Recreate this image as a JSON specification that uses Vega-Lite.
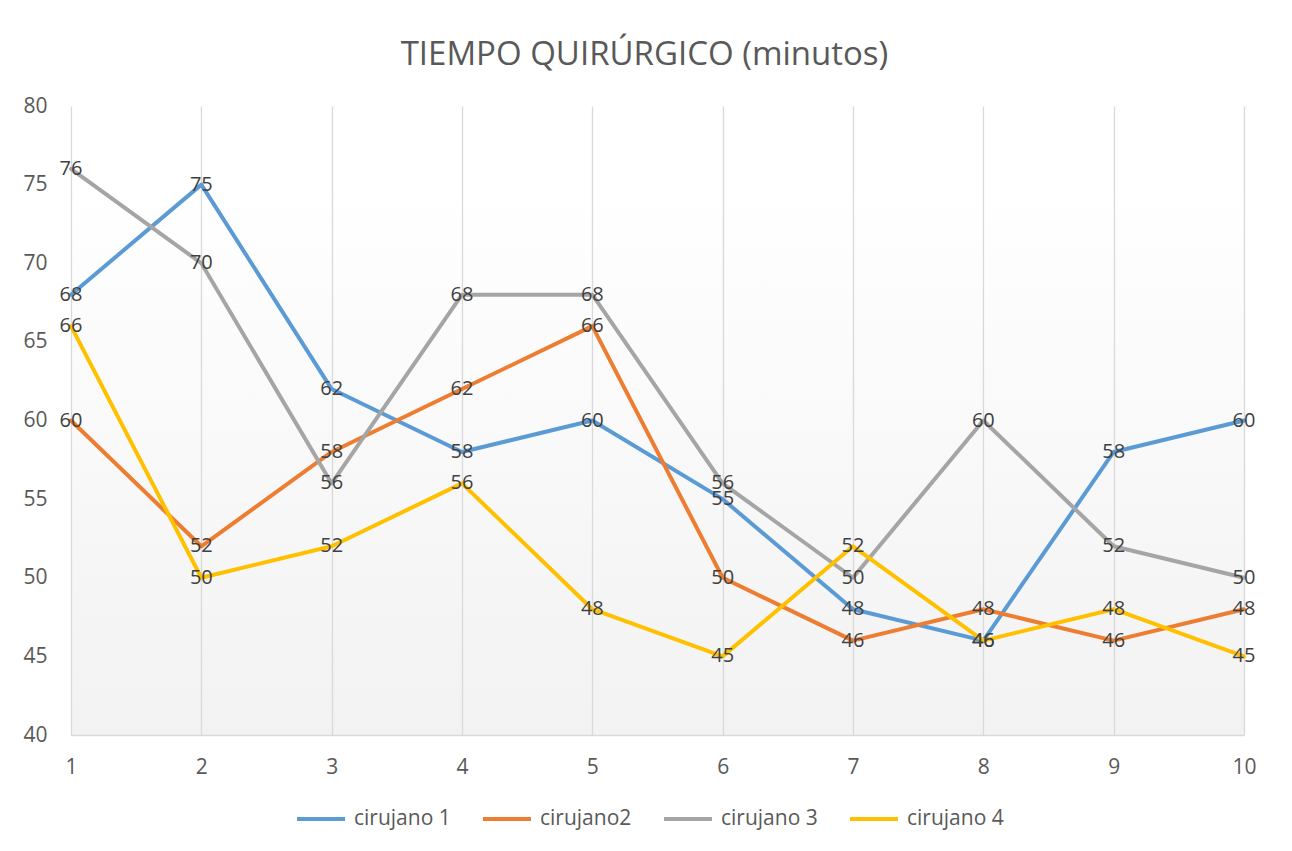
{
  "$schema": "https://vega.github.io/schema/vega-lite/v6.json",
  "autosize": "none",
  "width": 1173,
  "height": 629,
  "padding": {"left": 71, "top": 106, "right": 48, "bottom": 116},
  "background": "#ffffff",
  "title": {
    "text": "TIEMPO QUIRÚRGICO (minutos)",
    "font": "Open Sans",
    "fontSize": 33,
    "fontWeight": "normal",
    "color": "#595959",
    "anchor": "middle",
    "offset": 23,
    "dx": -13
  },
  "view": {
    "stroke": null,
    "fill": {
      "gradient": "linear",
      "x1": 0, "y1": 0, "x2": 0, "y2": 1,
      "stops": [
        {"offset": 0, "color": "#ffffff"},
        {"offset": 0.13, "color": "#ffffff"},
        {"offset": 1, "color": "#f2f2f2"}
      ]
    }
  },
  "config": {
    "font": "Open Sans",
    "axis": {
      "labelFont": "Open Sans",
      "labelFontSize": 21,
      "labelColor": "#595959",
      "title": null,
      "ticks": false
    },
    "legend": {
      "labelFont": "Open Sans",
      "labelFontSize": 21,
      "labelColor": "#595959"
    }
  },
  "data": {
    "values": [
      {"n": 1, "serie": "cirujano 1", "v": 68},
      {"n": 2, "serie": "cirujano 1", "v": 75},
      {"n": 3, "serie": "cirujano 1", "v": 62},
      {"n": 4, "serie": "cirujano 1", "v": 58},
      {"n": 5, "serie": "cirujano 1", "v": 60},
      {"n": 6, "serie": "cirujano 1", "v": 55},
      {"n": 7, "serie": "cirujano 1", "v": 48},
      {"n": 8, "serie": "cirujano 1", "v": 46},
      {"n": 9, "serie": "cirujano 1", "v": 58},
      {"n": 10, "serie": "cirujano 1", "v": 60},
      {"n": 1, "serie": "cirujano2", "v": 60},
      {"n": 2, "serie": "cirujano2", "v": 52},
      {"n": 3, "serie": "cirujano2", "v": 58},
      {"n": 4, "serie": "cirujano2", "v": 62},
      {"n": 5, "serie": "cirujano2", "v": 66},
      {"n": 6, "serie": "cirujano2", "v": 50},
      {"n": 7, "serie": "cirujano2", "v": 46},
      {"n": 8, "serie": "cirujano2", "v": 48},
      {"n": 9, "serie": "cirujano2", "v": 46},
      {"n": 10, "serie": "cirujano2", "v": 48},
      {"n": 1, "serie": "cirujano 3", "v": 76},
      {"n": 2, "serie": "cirujano 3", "v": 70},
      {"n": 3, "serie": "cirujano 3", "v": 56},
      {"n": 4, "serie": "cirujano 3", "v": 68},
      {"n": 5, "serie": "cirujano 3", "v": 68},
      {"n": 6, "serie": "cirujano 3", "v": 56},
      {"n": 7, "serie": "cirujano 3", "v": 50},
      {"n": 8, "serie": "cirujano 3", "v": 60},
      {"n": 9, "serie": "cirujano 3", "v": 52},
      {"n": 10, "serie": "cirujano 3", "v": 50},
      {"n": 1, "serie": "cirujano 4", "v": 66},
      {"n": 2, "serie": "cirujano 4", "v": 50},
      {"n": 3, "serie": "cirujano 4", "v": 52},
      {"n": 4, "serie": "cirujano 4", "v": 56},
      {"n": 5, "serie": "cirujano 4", "v": 48},
      {"n": 6, "serie": "cirujano 4", "v": 45},
      {"n": 7, "serie": "cirujano 4", "v": 52},
      {"n": 8, "serie": "cirujano 4", "v": 46},
      {"n": 9, "serie": "cirujano 4", "v": 48},
      {"n": 10, "serie": "cirujano 4", "v": 45}
    ]
  },
  "encoding": {
    "x": {
      "field": "n",
      "type": "ordinal",
      "scale": {"type": "point", "padding": 0},
      "axis": {
        "labelAngle": 0,
        "labelPadding": 21,
        "grid": true,
        "gridColor": "#d9d9d9",
        "gridWidth": 1.3,
        "domain": true,
        "domainColor": "#d9d9d9",
        "domainWidth": 1.3
      }
    },
    "y": {
      "field": "v",
      "type": "quantitative",
      "scale": {"domain": [40, 80], "nice": false, "zero": false},
      "axis": {
        "values": [40, 45, 50, 55, 60, 65, 70, 75, 80],
        "grid": false,
        "domain": false,
        "labelPadding": 24
      }
    }
  },
  "layer": [
    {
      "mark": {"type": "line", "strokeWidth": 4, "strokeCap": "round", "strokeJoin": "round"},
      "encoding": {
        "color": {
          "field": "serie",
          "type": "nominal",
          "scale": {
            "domain": ["cirujano 1", "cirujano2", "cirujano 3", "cirujano 4"],
            "range": ["#5B9BD5", "#ED7D31", "#A5A5A5", "#FFC000"]
          },
          "legend": {
            "title": null,
            "orient": "none",
            "direction": "horizontal",
            "legendX": 224,
            "legendY": 687,
            "symbolType": "stroke",
            "symbolStrokeWidth": 4,
            "symbolSize": 2304,
            "labelOffset": 7,
            "columnPadding": 24
          }
        }
      }
    },
    {
      "mark": {"type": "text", "fontSize": 20, "color": "#404040", "font": "Open Sans", "baseline": "middle", "align": "center"},
      "encoding": {
        "text": {"field": "v", "type": "quantitative"},
        "detail": {"field": "serie"}
      }
    }
  ]
}
